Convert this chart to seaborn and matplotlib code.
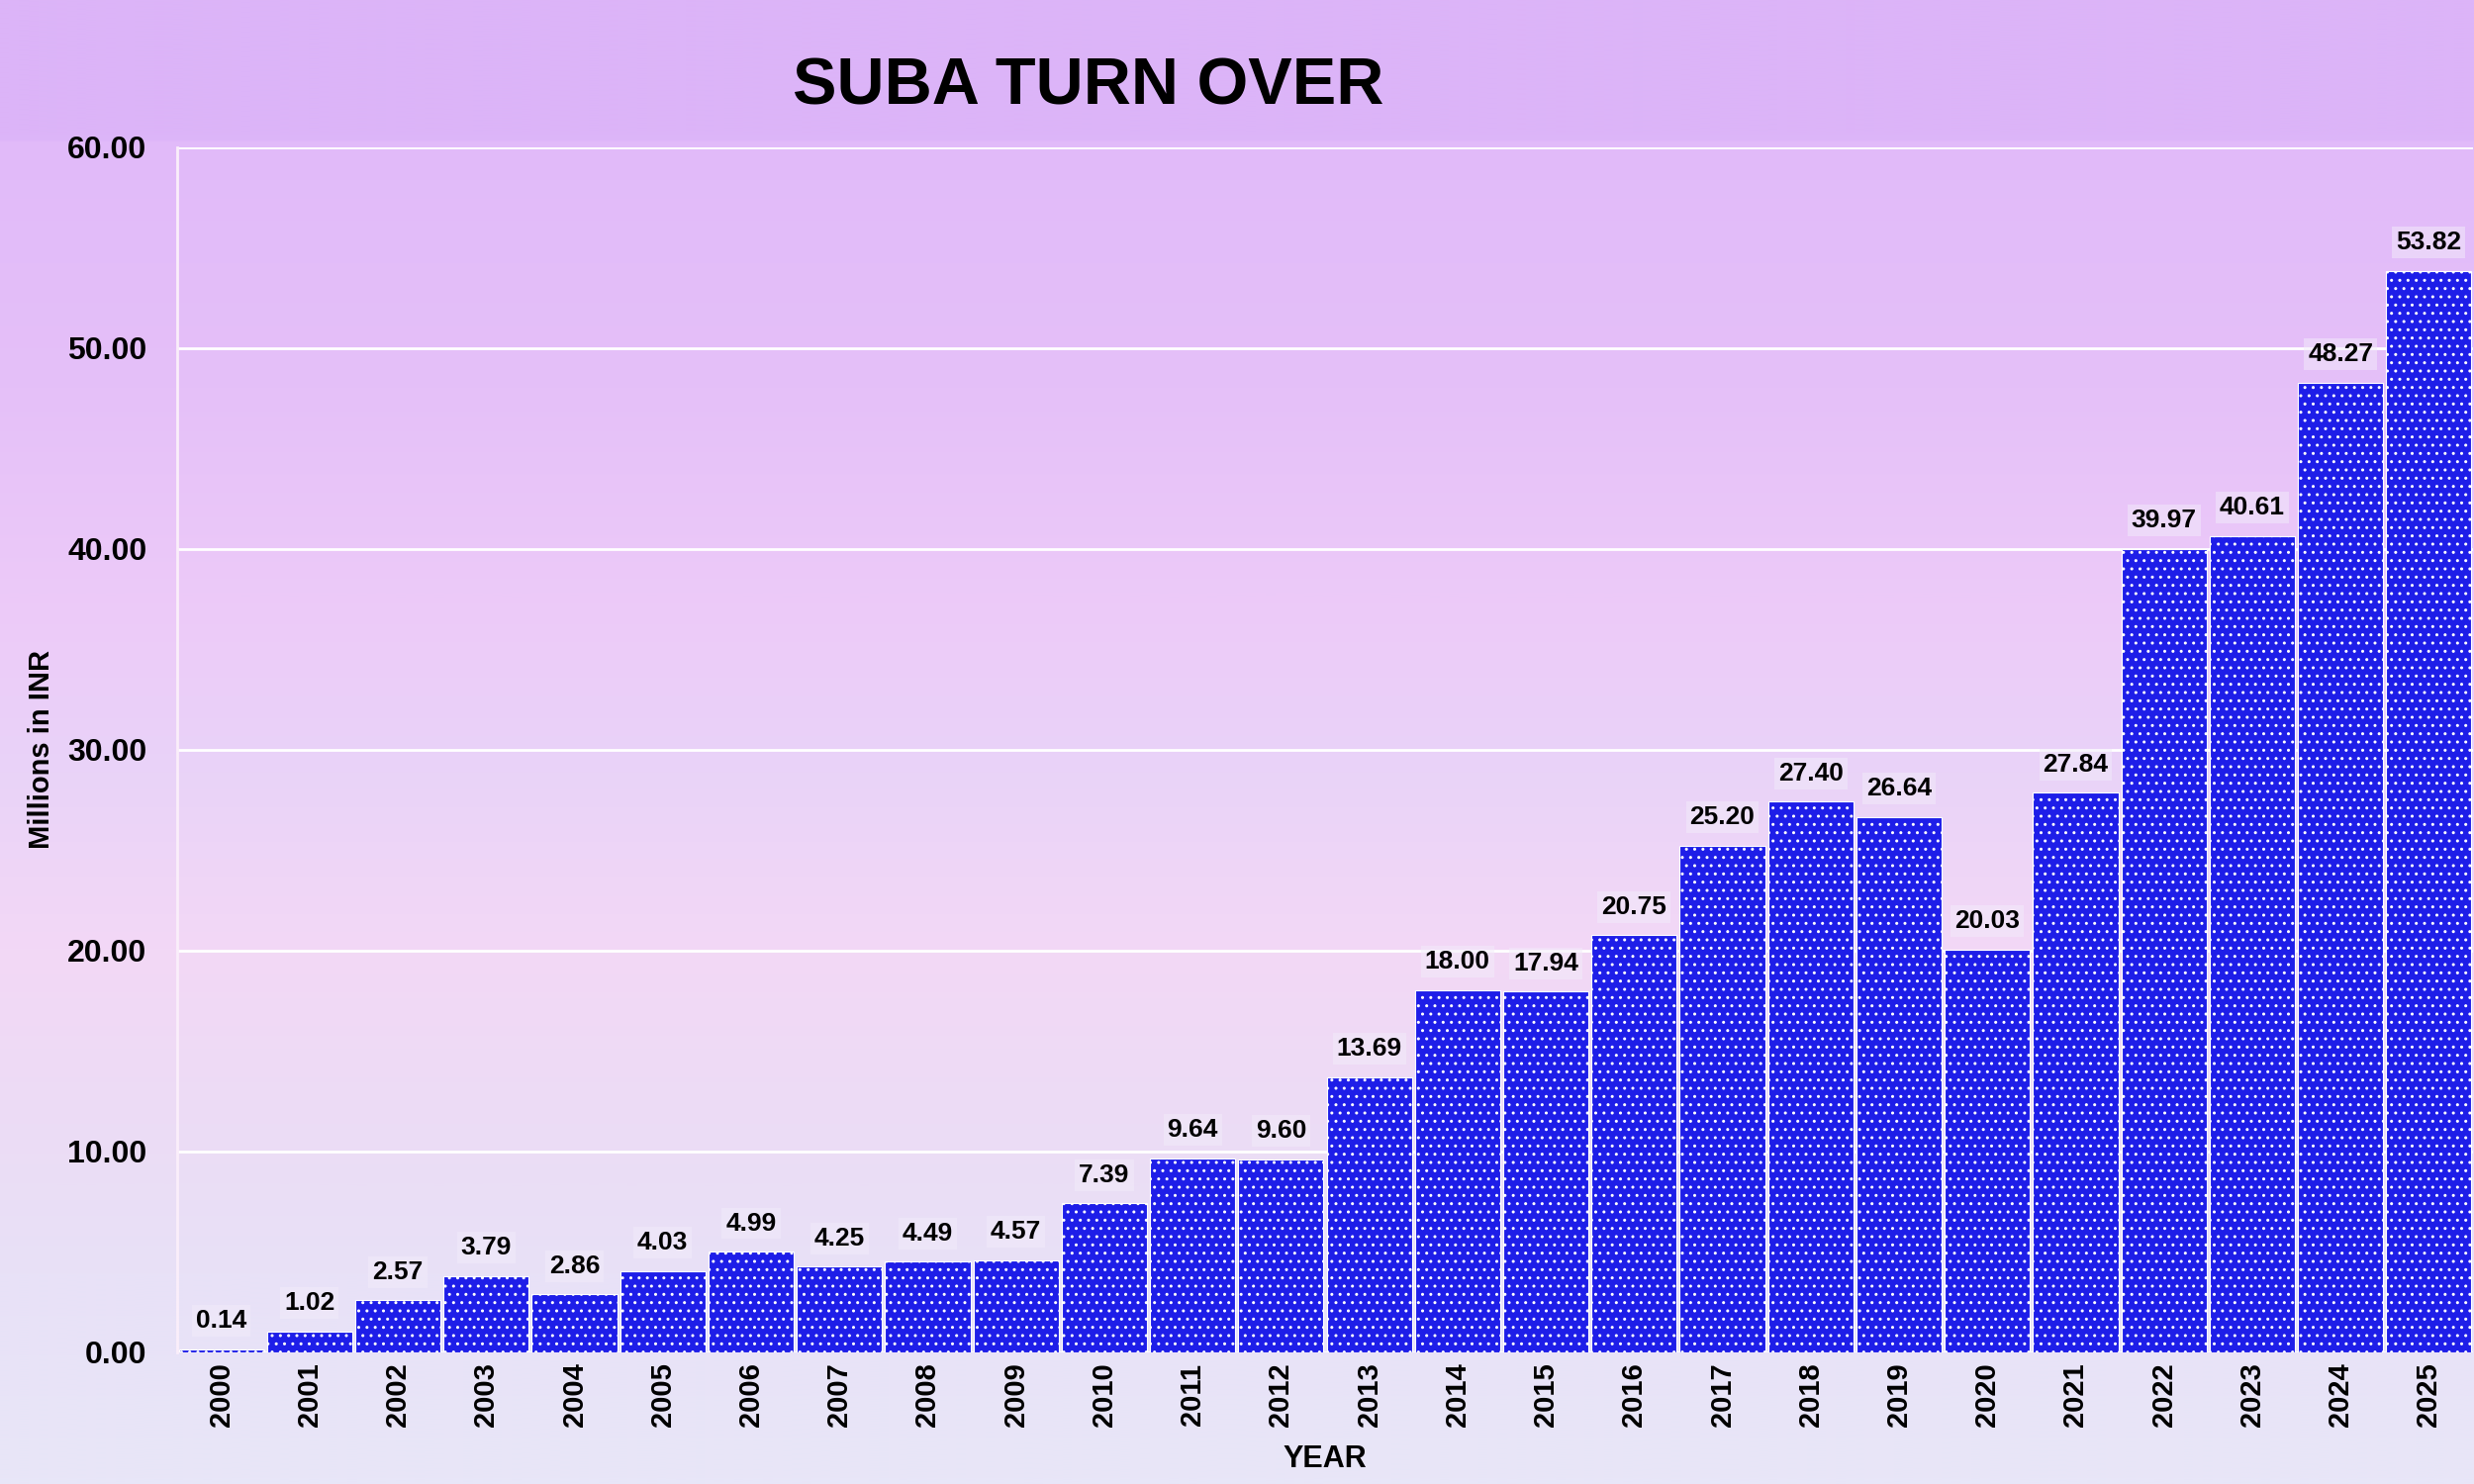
import numpy as np
import pandas as pd
import matplotlib.pyplot as plt
import seaborn as sns
from matplotlib.colors import LinearSegmentedColormap

# data
years = [str(y) for y in range(2000, 2026)]
turnover = [0.14, 1.02, 2.57, 3.79, 2.86, 4.03, 4.99, 4.25, 4.49, 4.57,
            7.39, 9.64, 9.60, 13.69, 18.00, 17.94, 20.75, 25.20, 27.40, 26.64,
            20.03, 27.84, 39.97, 40.61, 48.27, 53.82]
df = pd.DataFrame({'year': years, 'turnover': turnover})

sns.set_style('white')
plt.rcParams['font.family'] = ['Liberation Sans', 'DejaVu Sans']
plt.rcParams['hatch.linewidth'] = 1.0
plt.rcParams['text.color'] = 'black'
plt.rcParams['axes.labelcolor'] = 'black'

fig = plt.figure(figsize=(25, 15), dpi=100)

# background gradient (top -> bottom)
bg_stops = [(0.0, '#dcb4f8'), (0.09, '#dcb4f8'), (0.091, '#e1bafa'),
            (0.26, '#e5c0f8'), (0.42, '#edcbf9'), (0.52, '#e9d3f8'),
            (0.64, '#f3d8f6'), (0.76, '#ecdcf5'), (0.86, '#e8e1f7'), (1.0, '#e8e6f8')]
cmap = LinearSegmentedColormap.from_list('bg', bg_stops)
bg = fig.add_axes([0, 0, 1, 1], zorder=0)
bg.imshow(np.linspace(0, 1, 600).reshape(-1, 1), cmap=cmap, aspect='auto',
          extent=[0, 1, 0, 1], interpolation='bilinear')
bg.axis('off')

ax = fig.add_axes([0.0716, 0.089, 0.928, 0.812], zorder=1)
ax.patch.set_alpha(0)

sns.barplot(data=df, x='year', y='turnover', color='#1e1ee8', saturation=1,
            width=0.965, edgecolor='white', linewidth=0.8, hatch='..', ax=ax)

ax.bar_label(ax.containers[0], fmt='%.2f', padding=12, fontsize=19, fontweight='bold',
             color='black',
             bbox=dict(boxstyle='square,pad=0.15', facecolor='#f2ecfa', edgecolor='none', alpha=0.5))

ax.set_xlim(-0.5, 25.5)
ax.set_ylim(0, 60)
ax.set_yticks(range(0, 61, 10))
ax.set_yticklabels([f'{v:.2f}' for v in range(0, 61, 10)])
ax.yaxis.grid(True, color='white', linewidth=2)
ax.set_axisbelow(True)

for s in ['top', 'right', 'bottom']:
    ax.spines[s].set_visible(False)
ax.spines['left'].set_color('#faeefa')
ax.spines['left'].set_linewidth(2)

ax.tick_params(axis='y', labelsize=23, pad=16, length=6, color='white', width=2, labelcolor='black')
ax.tick_params(axis='x', labelsize=21, pad=8, length=0, rotation=90, labelcolor='black')
for lab in ax.get_xticklabels() + ax.get_yticklabels():
    lab.set_fontweight('bold')

ax.set_xlabel('YEAR', fontsize=22, fontweight='bold')
ax.xaxis.set_label_coords(0.5, -0.077)
ax.set_ylabel('Millions in INR', fontsize=21, fontweight='bold')
ax.yaxis.set_label_coords(-0.053, 0.5)

fig.text(0.44, 0.941, 'SUBA TURN OVER', ha='center', va='center',
         fontsize=48, fontweight='bold', color='black')

fig.savefig('out.png', dpi=100)
